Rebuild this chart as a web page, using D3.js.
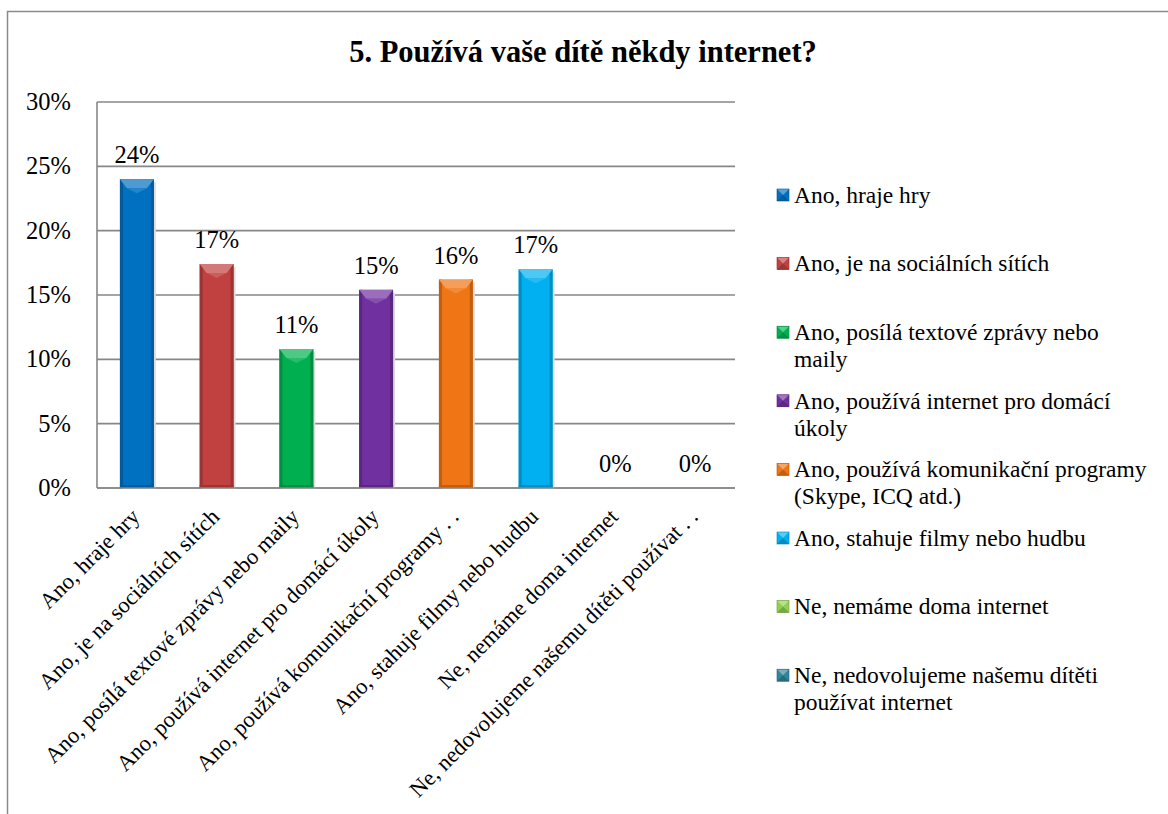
<!DOCTYPE html>
<html>
<head>
<meta charset="utf-8">
<script src="https://cdn.jsdelivr.net/npm/d3@7"></script>
</head>
<body style="margin:0">
<svg id="chart" width="1168" height="814"></svg>
<script>
// ---- data ----
const title = "5. Používá vaše dítě někdy internet?";
const categories = [
  "Ano, hraje hry",
  "Ano, je na sociálních sítích",
  "Ano, posílá textové zprávy nebo maily",
  "Ano, používá internet pro domácí úkoly",
  "Ano, používá komunikační programy (Skype, ICQ atd.)",
  "Ano, stahuje filmy nebo hudbu",
  "Ne, nemáme doma internet",
  "Ne, nedovolujeme našemu dítěti používat internet"
];
const axisLabels = [
  "Ano, hraje hry",
  "Ano, je na sociálních sítích",
  "Ano, posílá textové zprávy nebo maily",
  "Ano, používá internet pro domácí úkoly",
  "Ano, používá komunikační programy . .",
  "Ano, stahuje filmy nebo hudbu",
  "Ne, nemáme doma internet",
  "Ne, nedovolujeme našemu dítěti používat . ."
];
const legendLines = [
  ["Ano, hraje hry"],
  ["Ano, je na sociálních sítích"],
  ["Ano, posílá textové zprávy nebo", "maily"],
  ["Ano, používá internet pro domácí", "úkoly"],
  ["Ano, používá komunikační programy", "(Skype, ICQ atd.)"],
  ["Ano, stahuje filmy nebo hudbu"],
  ["Ne, nemáme doma internet"],
  ["Ne, nedovolujeme našemu dítěti", "používat internet"]
];
const values = [0.240, 0.174, 0.108, 0.154, 0.162, 0.170, 0, 0];
const dataLabels = ["24%", "17%", "11%", "15%", "16%", "17%", "0%", "0%"];
const colors = ["#0070C0", "#C0413F", "#00B050", "#7030A0", "#F07514", "#00B0F0", "#92D050", "#31859C"];
const yTicks = [0, 0.05, 0.10, 0.15, 0.20, 0.25, 0.30];

// ---- layout ----
const FONT = "Liberation Serif";
const svg = d3.select("#chart");
const plot = {left: 97, right: 735, top: 102, bottom: 488};

// outer frame (top and left edges visible)
svg.append("path").attr("d", "M7.5,814V11.5H1168")
  .attr("fill", "none").attr("stroke", "#8a8a8a").attr("stroke-width", 1.5);

const x = d3.scaleBand().domain(categories).range([plot.left, plot.right])
  .paddingInner(0.575).paddingOuter(0.2875);
const y = d3.scaleLinear().domain([0, 0.30]).range([plot.bottom, plot.top]);

// grid lines
svg.append("g").selectAll("line").data(yTicks).join("line")
  .attr("x1", plot.left).attr("x2", plot.right)
  .attr("y1", d => y(d)).attr("y2", d => y(d))
  .attr("stroke", "#878787").attr("stroke-width", 1.6);
svg.append("line").attr("x1", plot.left).attr("x2", plot.left).attr("y1", plot.top).attr("y2", plot.bottom)
  .attr("stroke", "#878787").attr("stroke-width", 1.6);

// y tick labels
svg.append("g").selectAll("text").data(yTicks).join("text")
  .attr("x", plot.left - 26).attr("y", d => y(d)).attr("dy", "0.32em")
  .attr("text-anchor", "end").attr("font-family", FONT).attr("font-size", 24.5)
  .text(d => d3.format(".0%")(d));

// bars
const bw = x.bandwidth();
const bars = svg.append("g");
categories.forEach((cat, i) => {
  const v = values[i];
  if (v <= 0) return;
  const c = colors[i];
  const x0 = x(cat), top = y(v), h = y(0) - y(v);
  const dark = d3.color(c).darker(0.6);
  const light = d3.interpolateRgb(c, "#ffffff")(0.3);
  const light2 = d3.interpolateRgb(c, "#ffffff")(0.15);
  bars.append("rect").attr("x", x0 + 2).attr("y", top + 3).attr("width", bw).attr("height", h - 2)
    .attr("fill", "#dcdcdc");
  bars.append("rect").attr("x", x0).attr("y", top).attr("width", bw).attr("height", h).attr("fill", c);
  bars.append("rect").attr("x", x0).attr("y", top).attr("width", 3).attr("height", h).attr("fill", dark);
  bars.append("rect").attr("x", x0 + bw - 3).attr("y", top).attr("width", 3).attr("height", h).attr("fill", dark);
  bars.append("path").attr("d", `M${x0},${top}L${x0 + bw},${top}L${x0 + bw - 7},${top + 9}L${x0 + 7},${top + 9}Z`)
    .attr("fill", light);
  bars.append("path").attr("d", `M${x0 + 7},${top + 9}L${x0 + bw - 7},${top + 9}L${x0 + bw / 2},${top + 14}Z`)
    .attr("fill", light2);
  bars.append("rect").attr("x", x0).attr("y", y(0) - 3).attr("width", bw).attr("height", 3).attr("fill", dark);
});

// x axis base line
svg.append("line").attr("x1", plot.left).attr("x2", plot.right).attr("y1", y(0)).attr("y2", y(0))
  .attr("stroke", "#878787").attr("stroke-width", 1.6);

// data labels
svg.append("g").selectAll("text").data(categories).join("text")
  .attr("x", d => x(d) + bw / 2)
  .attr("y", (d, i) => y(values[i]) - 16)
  .attr("text-anchor", "middle").attr("font-family", FONT).attr("font-size", 24.5)
  .text((d, i) => dataLabels[i]);

// category labels
svg.append("g").selectAll("text").data(categories).join("text")
  .attr("transform", d => `translate(${x(d) + bw / 2 + 4},${y(0) + 30}) rotate(-45)`)
  .attr("text-anchor", "end").attr("font-family", FONT).attr("font-size", 22.5)
  .text((d, i) => axisLabels[i]);

// title
svg.append("text").attr("x", 583).attr("y", 62).attr("text-anchor", "middle")
  .attr("font-family", FONT).attr("font-size", 30.5).attr("font-weight", "bold").text(title);

// legend
const legend = svg.append("g");
const legX = 777, legTextX = 794, legY0 = 195, legStep = 68.6, lineH = 27;
categories.forEach((cat, i) => {
  const cy = legY0 + i * legStep;
  const c = colors[i];
  const s = 12, mx = legX, my = cy - 6;
  legend.append("rect").attr("x", mx).attr("y", my).attr("width", s).attr("height", s).attr("fill", c);
  legend.append("path").attr("d", `M${mx},${my}L${mx + s},${my}L${mx + s / 2},${my + s / 2}Z`).attr("fill", d3.interpolateRgb(c, "#ffffff")(0.35));
  legend.append("path").attr("d", `M${mx},${my + s}L${mx + s},${my + s}L${mx + s / 2},${my + s / 2}Z`).attr("fill", d3.color(c).darker(0.6));
  legend.append("rect").attr("x", mx).attr("y", my).attr("width", s).attr("height", s).attr("fill", "none")
    .attr("stroke", d3.color(c).darker(0.8)).attr("stroke-width", 0.6);
  const t = legend.append("text").attr("x", legTextX).attr("y", cy)
    .attr("font-family", FONT).attr("font-size", 23.5);
  legendLines[i].forEach((ln, j) => {
    t.append("tspan").attr("x", legTextX).attr("dy", j === 0 ? "0.33em" : lineH).text(ln);
  });
});
</script>
</body>
</html>
